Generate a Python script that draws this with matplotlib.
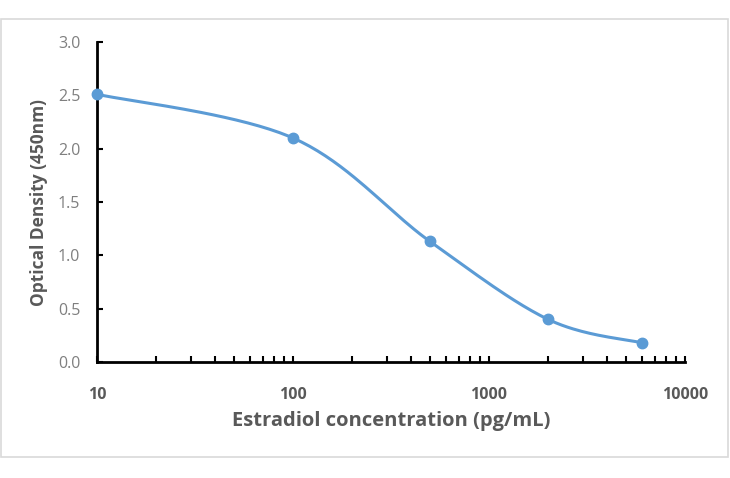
import numpy as np
import matplotlib
matplotlib.use("Agg")
import matplotlib.pyplot as plt
from matplotlib.patches import Rectangle
from matplotlib.ticker import LogLocator, FixedLocator, NullFormatter

conc = [10, 100, 500, 2000, 6000]
od = [2.51, 2.10, 1.13, 0.40, 0.18]
xticks = [10, 100, 1000, 10000]
xticklabels = ["10", "100", "1000", "10000"]
yticks = [0.0, 0.5, 1.0, 1.5, 2.0, 2.5, 3.0]
yticklabels = ["0.0", "0.5", "1.0", "1.5", "2.0", "2.5", "3.0"]

FONT = ["Open Sans", "DejaVu Sans"]
GRAY = "#595959"
LGRAY = "#7F7F7F"
BLUE = "#5B9BD5"

fig = plt.figure(figsize=(7.3, 4.78), dpi=100)
fig.patches.append(Rectangle((1/730, 21/478), 727/730, 438/478, transform=fig.transFigure,
                             fill=False, edgecolor="#D9D9D9", linewidth=1.2))
ax = fig.add_axes([97/730, 116/478, 588/730, 320/478])
ax.set_xscale("log")
ax.set_xlim(10, 10000)
ax.set_ylim(0, 3.0)

# smooth curve (Catmull-Rom in display space, like Excel smoothing)
pts = ax.transData.transform(np.column_stack([conc, od]))
P = np.vstack([pts[0], pts, pts[-1]])
curve = []
t = np.linspace(0, 1, 40)
for i in range(1, len(P) - 2):
    p0, p1, p2, p3 = P[i - 1], P[i], P[i + 1], P[i + 2]
    c1 = p1 + (p2 - p0) / 6
    c2 = p2 - (p3 - p1) / 6
    tt = t[:, None]
    seg = ((1 - tt) ** 3) * p1 + 3 * ((1 - tt) ** 2) * tt * c1 + 3 * (1 - tt) * tt ** 2 * c2 + tt ** 3 * p2
    curve.append(seg)
curve = np.vstack(curve)
cd = ax.transData.inverted().transform(curve)
ax.plot(cd[:, 0], cd[:, 1], color=BLUE, lw=2.2, solid_capstyle="round", clip_on=False, zorder=3)
ax.plot(conc, od, "o", color=BLUE, markersize=7.5, clip_on=False, zorder=4)

for s in ["top", "right"]:
    ax.spines[s].set_visible(False)
for s in ["left", "bottom"]:
    ax.spines[s].set_linewidth(2)
    ax.spines[s].set_color("black")

ax.xaxis.set_major_locator(FixedLocator(xticks))
ax.set_xticklabels(xticklabels)
ax.xaxis.set_minor_locator(LogLocator(base=10, subs=np.arange(2, 10)))
ax.xaxis.set_minor_formatter(NullFormatter())
ax.set_yticks(yticks)
ax.set_yticklabels(yticklabels)

ax.tick_params(axis="x", which="both", direction="in", length=4, width=1.5, color="black", pad=18)
ax.tick_params(axis="y", which="both", direction="in", length=4, width=1.5, color="black", pad=12)
for lab in ax.get_xticklabels():
    lab.set_fontfamily(FONT); lab.set_fontsize(11.5); lab.set_fontweight("bold"); lab.set_color(GRAY)
for lab in ax.get_yticklabels():
    lab.set_fontfamily(FONT); lab.set_fontsize(11.5); lab.set_color(LGRAY)

ax.set_xlabel("Estradiol concentration (pg/mL)", family=FONT, fontsize=14.5, fontweight="bold",
              color=GRAY, labelpad=6)
ax.set_ylabel("Optical Density (450nm)", family=FONT, fontsize=12.5, fontweight="bold",
              color=GRAY)
ax.yaxis.set_label_coords(-0.083, 0.5)

fig.savefig("out.png", dpi=100)
